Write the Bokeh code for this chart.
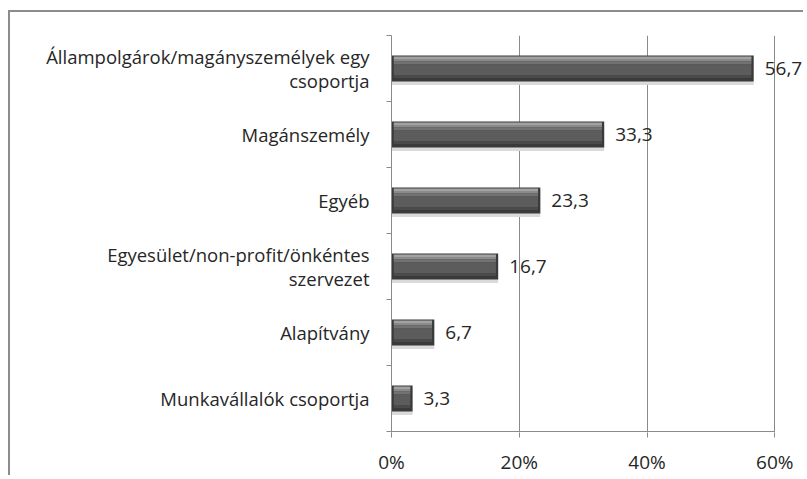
from bokeh.plotting import figure
from bokeh.models import (ColumnDataSource, Range1d, FixedTicker, LabelSet)
from bokeh.transform import dodge
from bokeh.core.properties import value
from bokeh.embed import file_html
from bokeh.resources import INLINE

# ---- data ----
categories = ["Állampolgárok/magányszemélyek egy\ncsoportja", "Magánszemély", "Egyéb",
              "Egyesület/non-profit/önkéntes\nszervezet", "Alapítvány", "Munkavállalók csoportja"]
values = [56.7, 33.3, 23.3, 16.7, 6.7, 3.3]
x_ticks = [0, 20, 40, 60]
x_tick_labels = ["0%", "20%", "40%", "60%"]

FONT = "Open Sans"
TXT = "#262626"
AXC = "#8a8a8a"

n = len(categories)
positions = [n - i - 0.5 for i in range(n)]          # category slots, first at top
value_labels = [f"{v:.1f}".replace(".", ",") for v in values]
src = ColumnDataSource(dict(pos=positions, val=values, lab=value_labels,
                            inner_r=[v - 0.35 for v in values],
                            inner_l=[min(0.35, v / 4) for v in values]))

p = figure(width=795, height=465, output_backend="svg", toolbar_location=None,
           y_range=Range1d(-0.015, n), x_range=Range1d(0, 64.5),
           min_border_left=381, min_border_right=2, min_border_top=23, min_border_bottom=43,
           styles={"margin-top": "10px", "margin-left": "8px",
                   "border-top": "2px solid #8c8c8c", "border-left": "2px solid #8c8c8c"})
p.outline_line_color = None
p.background_fill_color = "white"
p.border_fill_color = "white"

# bars: shadow, base, and gradient strips (band = 1 unit ~ 66.3 px, bar ~26 px)
BAND = 66.3
BAR = 26.0
p.hbar(y=dodge("pos", -3.0 / BAND), left=0, right="val", height=(BAR + 1) / BAND,
       source=src, fill_color="#dadada", line_color=None)
p.hbar(y="pos", left=0, right="val", height=BAR / BAND, source=src,
       fill_color="#3a3a3a", line_color=None)
strips = [(1.0, 3.5, "#a2a2a2"), (3.5, 6.0, "#8a8a8a"), (6.0, 9.0, "#727272"),
          (9.0, 20.0, "#5c5c5c"), (20.0, 22.5, "#4b4b4b")]
for t, b, c in strips:
    off = (BAR / 2 - (t + b) / 2) / BAND
    p.hbar(y=dodge("pos", off), left="inner_l", right="inner_r",
           height=(b - t) / BAND, source=src, fill_color=c, line_color=None)

# x axis line drawn only up to the last tick
p.segment(x0=x_ticks[0], x1=x_ticks[-1], y0=0, y1=0, line_color=AXC, line_width=1)

# value labels
p.add_layout(LabelSet(x="val", y="pos", text="lab", source=src, x_offset=11,
                      text_baseline="middle", text_font=value(FONT), text_font_size="19px",
                      text_color=TXT))

# grid / axes
p.ygrid.visible = False
p.xgrid.ticker = FixedTicker(ticks=x_ticks)
p.xgrid.grid_line_color = AXC
p.xaxis.ticker = FixedTicker(ticks=x_ticks)
p.xaxis.major_label_overrides = dict(zip(x_ticks, x_tick_labels))
p.xaxis.axis_line_color = None
p.xaxis.major_tick_line_color = AXC
p.xaxis.major_tick_in = 0
p.xaxis.major_tick_out = 5
p.xaxis.minor_tick_line_color = None
p.xaxis.major_label_standoff = 11
p.xaxis.major_label_text_font = FONT
p.xaxis.major_label_text_font_size = "19px"
p.xaxis.major_label_text_color = TXT

p.yaxis.ticker = FixedTicker(ticks=positions, minor_ticks=list(range(n + 1)))
p.yaxis.major_label_overrides = dict(zip(positions, categories))
p.yaxis.axis_line_color = AXC
p.yaxis.major_tick_line_color = None
p.yaxis.major_tick_in = 0
p.yaxis.major_tick_out = 5
p.yaxis.minor_tick_line_color = AXC
p.yaxis.minor_tick_in = 0
p.yaxis.minor_tick_out = 5
p.yaxis.major_label_standoff = 17
p.yaxis.major_label_text_font = FONT
p.yaxis.major_label_text_font_size = "18.5px"
p.yaxis.major_label_text_color = TXT
p.yaxis.major_label_text_line_height = 0.98

open("out.html", "w").write(file_html(p, INLINE))
